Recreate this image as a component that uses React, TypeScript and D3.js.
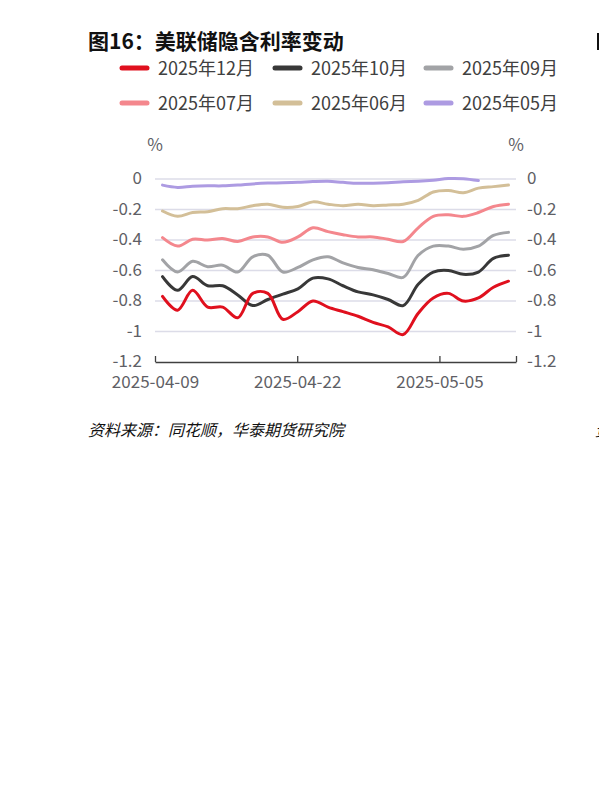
import React, { useRef, useEffect } from "react";
import * as d3 from "d3";

// trading days shown on the chart
const dates = [
  "2025-04-09", "2025-04-10", "2025-04-11", "2025-04-14", "2025-04-15", "2025-04-16",
  "2025-04-17", "2025-04-21", "2025-04-22", "2025-04-23", "2025-04-24", "2025-04-25",
  "2025-04-28", "2025-04-29", "2025-04-30", "2025-05-01", "2025-05-02", "2025-05-05",
  "2025-05-06", "2025-05-07", "2025-05-08", "2025-05-09", "2025-05-12", "2025-05-13",
];

const m12 = [-0.77, -0.86, -0.73, -0.84, -0.84, -0.91, -0.75, -0.75, -0.92, -0.87, -0.8, -0.84,
  -0.87, -0.9, -0.94, -0.97, -1.02, -0.88, -0.78, -0.75, -0.8, -0.78, -0.71, -0.67];
const m10 = [-0.64, -0.73, -0.64, -0.7, -0.7, -0.76, -0.83, -0.79, -0.755, -0.72, -0.65, -0.655,
  -0.7, -0.74, -0.76, -0.79, -0.83, -0.69, -0.61, -0.6, -0.625, -0.61, -0.52, -0.5];
const m09 = [-0.53, -0.61, -0.54, -0.575, -0.565, -0.61, -0.51, -0.5, -0.61, -0.58, -0.53, -0.51,
  -0.55, -0.58, -0.595, -0.62, -0.645, -0.5, -0.44, -0.44, -0.46, -0.44, -0.37, -0.35];
const m07 = [-0.385, -0.44, -0.395, -0.4, -0.39, -0.41, -0.38, -0.38, -0.415, -0.38, -0.32, -0.345,
  -0.365, -0.38, -0.38, -0.395, -0.41, -0.32, -0.245, -0.235, -0.245, -0.22, -0.18, -0.165];
const m06 = [-0.21, -0.245, -0.22, -0.215, -0.195, -0.195, -0.175, -0.165, -0.185, -0.18, -0.15, -0.165,
  -0.175, -0.165, -0.175, -0.17, -0.165, -0.14, -0.085, -0.075, -0.09, -0.06, -0.05, -0.04];
const m05 = [-0.04, -0.055, -0.048, -0.045, -0.045, -0.04, -0.032, -0.027, -0.025, -0.022, -0.017, -0.015,
  -0.022, -0.028, -0.028, -0.025, -0.018, -0.015, -0.008, 0.003, 0.002, -0.01];

const seriesNames = ["2025年12月", "2025年10月", "2025年09月", "2025年07月", "2025年06月", "2025年05月"];
const seriesValues = [m12, m10, m09, m07, m06, m05];
const seriesColors = ["#e0101e", "#383838", "#a2a3a6", "#f4878d", "#d3bf98", "#ad9be2"];

const yTicks = [0, -0.2, -0.4, -0.6, -0.8, -1, -1.2];
const xTickLabels = ["2025-04-09", "2025-04-22", "2025-05-05"];
const xAxisEnd = "2025-05-12";

const font = "'Noto Sans CJK SC', 'Noto Sans', sans-serif";
const labelColor = "#5f5f66";

const W = 599;
const H = 792;
const left = 155;
const right = 516;
const top = 179;
const bottom = 362;

export default function App() {
  const axisRef = useRef<SVGGElement>(null);

  const x = d3.scalePoint<string>().domain(dates).range([left, right]).padding(0.5);
  const parse = d3.timeParse("%Y-%m-%d");
  const xTime = d3
    .scaleTime()
    .domain([parse(dates[0])!, parse(xAxisEnd)!])
    .range([left, right]);
  const y = d3.scaleLinear().domain([-1.2, 0]).range([bottom, top]);

  const line = d3
    .line<number>()
    .x((_, i) => x(dates[i])!)
    .y((d) => y(d))
    .curve(d3.curveCatmullRom.alpha(0.5));

  const fmt = (v: number) => String(+v.toFixed(1)).replace(/^-0$/, "0");

  useEffect(() => {
    if (!axisRef.current) return;
    const tickDates = [...xTickLabels, xAxisEnd].map((d) => parse(d)!);
    const axis = d3
      .axisBottom(xTime)
      .tickValues(tickDates)
      .tickSizeInner(-6)
      .tickSizeOuter(0)
      .tickPadding(14)
      .tickFormat((d, i) => (i < xTickLabels.length ? xTickLabels[i] : ""));
    const g = d3.select(axisRef.current);
    g.selectAll("*").remove();
    g.call(axis as any);
    g.select(".domain").attr("stroke", "#404040").attr("stroke-width", 1.3);
    g.selectAll(".tick line").attr("stroke", "#404040").attr("stroke-width", 1.3);
    g.selectAll(".tick text")
      .attr("fill", labelColor)
      .attr("font-size", 17)
      .attr("font-family", font);
  }, []);

  const legendCols = [120, 273, 424];

  return (
    <div style={{ position: "absolute", left: 0, top: 0 }}>
      <svg width={W} height={H} viewBox={`0 0 ${W} ${H}`} style={{ display: "block", background: "#fff" }}>
        <text x={88} y={49} fontSize={21} fontWeight="bold" fontFamily={font} fill="#111">
          图16：美联储隐含利率变动
        </text>
        <rect x={597} y={33} width={3} height={17} fill="#111" />

        {seriesNames.map((name, i) => {
          const row = Math.floor(i / 3);
          const lx = legendCols[i % 3];
          const ly = 68 + row * 35;
          return (
            <g key={name}>
              <line x1={lx + 2} x2={lx + 27} y1={ly} y2={ly} stroke={seriesColors[i]} strokeWidth={5} strokeLinecap="round" />
              <text x={lx + 38} y={ly + 6.5} fontSize={18} fontFamily={font} fill="#404040">
                {name}
              </text>
            </g>
          );
        })}

        <text x={155} y={151} fontSize={17} fontFamily={font} fill={labelColor} textAnchor="middle">%</text>
        <text x={516} y={151} fontSize={17} fontFamily={font} fill={labelColor} textAnchor="middle">%</text>

        {yTicks.filter((t) => t > -1.2).map((t) => (
          <line key={"g" + t} x1={left} x2={right} y1={y(t)} y2={y(t)} stroke="#dcdce8" strokeWidth={1.3} />
        ))}
        {yTicks.map((t) => (
          <g key={"l" + t}>
            <text x={142} y={y(t) + 5} fontSize={17} fontFamily={font} fill={labelColor} textAnchor="end">
              {fmt(t)}
            </text>
            <text x={527} y={y(t) + 5} fontSize={17} fontFamily={font} fill={labelColor}>
              {fmt(t)}
            </text>
          </g>
        ))}

        <g ref={axisRef} transform={`translate(0,${bottom})`} />

        {seriesValues
          .map((vals, i) => ({ vals, i }))
          .reverse()
          .map(({ vals, i }) => (
            <path
              key={seriesNames[i]}
              d={line(vals) || ""}
              fill="none"
              stroke={seriesColors[i]}
              strokeWidth={3}
              strokeLinecap="round"
              strokeLinejoin="round"
            />
          ))}

        <text x={88} y={436} fontSize={16} fontStyle="italic" fontFamily={font} fill="#111">
          资料来源：同花顺，华泰期货研究院
        </text>
        <text x={595} y={436} fontSize={16} fontStyle="italic" fontFamily={font} fill="#111">
          资
        </text>
      </svg>
    </div>
  );
}
